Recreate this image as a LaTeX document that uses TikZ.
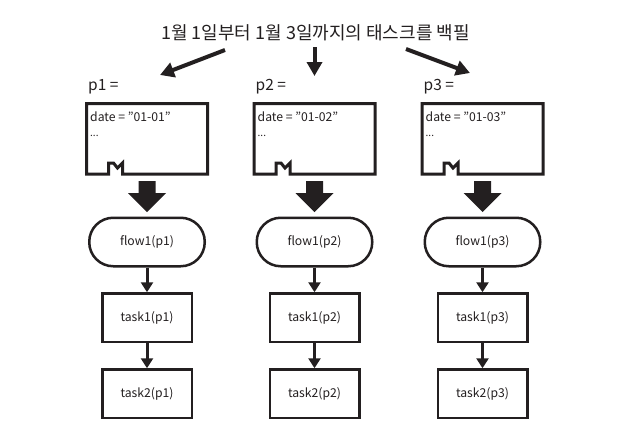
\documentclass[tikz,border=0pt]{standalone}
\usepackage{fontspec}
\setmainfont{Noto Sans CJK KR}
\usetikzlibrary{arrows.meta}
\definecolor{ink}{HTML}{231F20}
\newcommand{\dq}{\symbol{34}}
\begin{document}
\begin{tikzpicture}[x=1pt,y=-1pt,
  every node/.style={text=ink},
  bigline/.style={draw=ink, line width=3pt, line join=miter},
  flowbox/.style={draw=ink, line width=2.5pt, rounded corners=24pt, minimum width=115.5pt, minimum height=48.5pt, inner sep=0pt, font=\fontsize{12.2}{14}\selectfont},
  taskbox/.style={draw=ink, line width=2.5pt, minimum width=89.5pt, minimum height=48.5pt, inner sep=0pt, font=\fontsize{12.2}{14}\selectfont},
  smallarr/.style={draw=ink, line width=3pt, -{Triangle[width=12pt,length=10pt]}},
  titlearr/.style={draw=ink, line width=4pt, -{Triangle[width=15pt,length=14pt]}},
  plabel/.style={anchor=west, inner sep=0pt, font=\fontsize{15.5}{18}\selectfont},
  datelabel/.style={anchor=base west, inner sep=0pt, font=\fontsize{12.2}{14}\selectfont},
]
\fill[white] (0,0) rectangle (643,434);
\useasboundingbox (0,0) rectangle (643,434);

\node[font=\fontsize{18}{21}\selectfont, inner sep=0pt] (title) at (315.5,32.5) {1월 1일부터 1월 3일까지의 태스크를 백필};

\coordinate (s1) at (225,50);  \coordinate (e1) at (160,75);
\coordinate (s2) at (314.5,47); \coordinate (e2) at (314.5,76);
\coordinate (s3) at (406,49);  \coordinate (e3) at (470,73);
\draw[titlearr] (s1) -- (e1);
\draw[titlearr] (s2) -- (e2);
\draw[titlearr] (s3) -- (e3);

\foreach \i/\cx in {1/147,2/314.5,3/482.5}{
  \pgfmathsetmacro{\L}{\cx-60.5}
  \pgfmathsetmacro{\R}{\cx+60.5}
  \node[plabel] (p\i) at (\cx-59,87) {p\i\ =};
  \draw[bigline] (\L,103.5) -- (\R,103.5) -- (\R,174) -- (\L+36,174) -- (\L+36,163) -- (\L+31,168) -- (\L+27,163) -- (\L+22,163) -- (\L+22,174) -- (\L,174) -- cycle;
  \node[datelabel] (d\i) at (\L+3.5,121) {date = \dq 01-0\i\dq};
  \node[anchor=base west, inner sep=0pt, font=\fontsize{10}{11}\selectfont] (dots\i) at (\L+3.5,136) {...};
  \fill[ink] (\cx-8.5,181) -- (\cx+8.5,181) -- (\cx+8.5,193) -- (\cx+19,193) -- (\cx,212) -- (\cx-19,193) -- (\cx-8.5,193) -- cycle;
  \node[flowbox] (flow\i) at (\cx,242) {flow1(p\i)};
  \node[taskbox] (ta\i) at (\cx,317.75) {task1(p\i)};
  \node[taskbox] (tb\i) at (\cx,393.75) {task2(p\i)};
  \draw[smallarr] (flow\i.south) -- (ta\i.north);
  \draw[smallarr] (ta\i.south) -- (tb\i.north);
}
\end{tikzpicture}
\end{document}
